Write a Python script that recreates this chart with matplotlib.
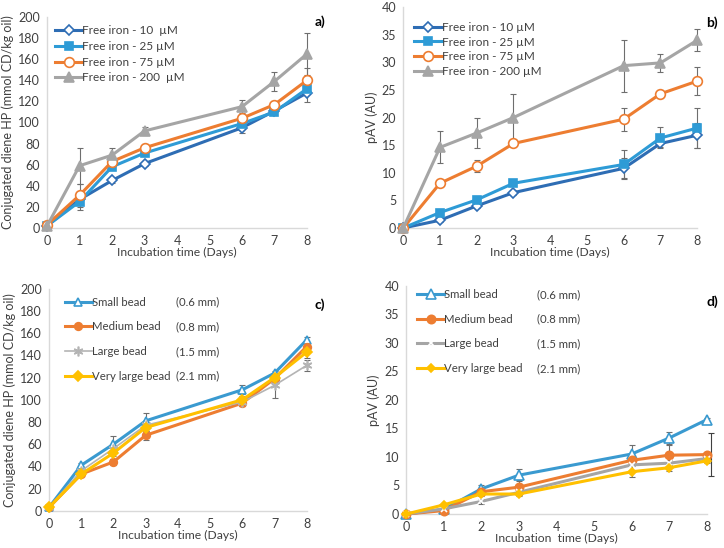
import matplotlib

matplotlib.use("Agg")
import matplotlib.pyplot as plt

plt.rcParams["font.family"] = ["Lato", "DejaVu Sans"]

# x positions (incubation days)
days = [0, 1, 2, 3, 6, 7, 8]
x_ticks = [0, 1, 2, 3, 4, 5, 6, 7, 8]

# panel a: conjugated diene HP, free iron
cd_iron_labels = ["Free iron - 10  µM", "Free iron - 25 µM", "Free iron - 75 µM", "Free iron - 200  µM"]
cd_iron_10 = [2, 27, 45, 61, 95, 111, 128]
cd_iron_25 = [2, 25, 58, 71, 99, 110, 132]
cd_iron_75 = [3, 31, 63, 76, 104, 117, 140]
cd_iron_200 = [2, 59, 69, 92, 115, 139, 165]
cd_iron_10_err = [0, 5, 2, 2, 5, 3, 9]
cd_iron_25_err = [0, 8, 3, 3, 3, 3, 4]
cd_iron_75_err = [0, 11, 3, 4, 3, 3, 12]
cd_iron_200_err = [0, 17, 7, 4, 6, 9, 20]

# panel b: pAV, free iron
pav_iron_labels = ["Free iron - 10 µM", "Free iron - 25 µM", "Free iron - 75 µM", "Free iron - 200 µM"]
pav_iron_10 = [0, 1.4, 4.0, 6.4, 10.8, 15.3, 16.8]
pav_iron_25 = [0, 2.8, 5.1, 8.1, 11.5, 16.3, 18.1]
pav_iron_75 = [0, 8.1, 11.2, 15.3, 19.7, 24.3, 26.6]
pav_iron_200 = [0, 14.6, 17.2, 20.0, 29.4, 29.9, 34.0]
pav_iron_10_err = [0, 0.3, 0.4, 0.4, 1.8, 0.7, 2.3]
pav_iron_25_err = [0, 0.3, 0.4, 0.4, 2.7, 1.9, 3.7]
pav_iron_75_err = [0, 0.4, 1.1, 0.5, 2.1, 0.7, 2.6]
pav_iron_200_err = [0, 2.9, 2.8, 4.2, 4.7, 1.6, 2.0]

# panel c: conjugated diene HP, bead size
bead_names = ["Small bead", "Medium bead", "Large bead", "Very large bead"]
bead_sizes = ["(0.6 mm)", "(0.8 mm)", "(1.5 mm)", "(2.1 mm)"]
cd_small = [3, 41, 60, 81, 109, 124, 154]
cd_medium = [3, 33, 44, 68, 97, 119, 148]
cd_large = [3, 36, 56, 77, 98, 113, 131]
cd_vlarge = [3, 33, 52, 75, 100, 120, 143]
cd_small_err = [0, 2, 7, 7, 4, 2, 3]
cd_medium_err = [0, 2, 3, 4, 3, 3, 3]
cd_large_err = [0, 2, 3, 3, 4, 11, 5]
cd_vlarge_err = [0, 2, 3, 3, 3, 3, 5]

# panel d: pAV, bead size
pav_small = [0, 0.8, 4.4, 6.8, 10.5, 13.3, 16.5]
pav_medium = [0, 0.6, 3.9, 4.7, 9.4, 10.3, 10.4]
pav_large = [0, 0.9, 2.2, 3.8, 8.6, 8.9, 9.7]
pav_vlarge = [0, 1.6, 3.5, 3.5, 7.4, 8.1, 9.3]
pav_small_err = [0, 0.2, 0.7, 1.0, 1.6, 1.1, 0.3]
pav_medium_err = [0, 0.2, 0.5, 1.3, 0.5, 1.7, 0.3]
pav_large_err = [0, 0.2, 0.4, 0.4, 1.0, 0.6, 0.3]
pav_vlarge_err = [0, 0.2, 0.3, 0.3, 1.0, 0.5, 0.3]
pav_medium_err_d8 = 3.7

DARK_BLUE = "#2E6DB4"
LIGHT_BLUE = "#2E9BD6"
ORANGE = "#ED7D31"
GRAY = "#A5A5A5"
YELLOW = "#FFC000"
TEXT = "#404040"
ERR = "#6E6E6E"

iron_styles = [
    dict(color=DARK_BLUE, marker="D", mfc="white", ms=5),
    dict(color=LIGHT_BLUE, marker="s", mfc=LIGHT_BLUE, ms=5.5),
    dict(color=ORANGE, marker="o", mfc="white", ms=7),
    dict(color=GRAY, marker="^", mfc=GRAY, ms=7),
]
bead_styles_c = [
    dict(color="#3A9AD0", marker="^", mfc="white", ms=6),
    dict(color=ORANGE, marker="o", mfc=ORANGE, ms=5.5),
    dict(color="#B4B4B4", marker=(6, 2, 0), mfc="#B4B4B4", ms=7, lw=1.2),
    dict(color=YELLOW, marker="D", mfc=YELLOW, ms=5),
]
bead_styles_d = [
    dict(color="#3A9AD0", marker="^", mfc="white", ms=7),
    dict(color=ORANGE, marker="o", mfc=ORANGE, ms=6),
    dict(color=GRAY, marker="x", mfc=GRAY, ms=4, mec="white"),
    dict(color=YELLOW, marker="D", mfc=YELLOW, ms=4.5),
]


def style_axes(ax, ymax, ystep, ylabel, xlabel):
    ax.set_xlim(0, 8)
    ax.set_ylim(0, ymax)
    ax.set_xticks(x_ticks)
    ax.set_yticks(range(0, ymax + 1, ystep))
    for side in ("top", "right"):
        ax.spines[side].set_visible(False)
    for side in ("left", "bottom"):
        ax.spines[side].set_color("#D9D9D9")
        ax.spines[side].set_linewidth(1)
    ax.tick_params(length=0, labelsize=9, colors=TEXT, pad=5)
    ax.set_ylabel(ylabel, fontsize=9, color=TEXT, labelpad=3)
    ax.set_xlabel(xlabel, fontsize=8.7, color=TEXT, labelpad=0)


def draw_series(ax, series, errors, styles, lw=2.2):
    handles = []
    for ys, es, st in zip(series, errors, styles):
        st = dict(st)
        width = st.pop("lw", lw)
        ax.errorbar(days, ys, yerr=es, fmt="none", ecolor=ERR, elinewidth=0.8,
                    capsize=2, capthick=0.8, zorder=2, clip_on=False)
        st.setdefault("mec", st["color"])
        (h,) = ax.plot(days, ys, lw=width, mew=1.2, zorder=3, clip_on=False, **st)
        handles.append(h)
    return handles


def panel_tag(ax, x, y, tag):
    ax.text(x, y, tag, transform=ax.transAxes, fontsize=10, fontweight="bold",
            ha="center", va="center")


def bead_legend(ax, handles, name_x, size_x, top):
    common = dict(loc="upper left", frameon=False, fontsize=8.2, labelspacing=1.2,
                  labelcolor=TEXT, borderaxespad=0.3)
    leg = ax.legend(handles, bead_names, bbox_to_anchor=(name_x, top),
                    handlelength=2.4, handletextpad=0.0, **common)
    ax.add_artist(leg)
    ax.legend([plt.Line2D([], [], lw=0)] * 4, bead_sizes, bbox_to_anchor=(size_x, top),
              handlelength=0, handletextpad=0, **common)


fig = plt.figure(figsize=(7.24, 5.48), dpi=100)

# panel a
ax_a = fig.add_axes([0.065, 0.584, 0.359, 0.385])
h = draw_series(ax_a, [cd_iron_10, cd_iron_25, cd_iron_75, cd_iron_200],
                [cd_iron_10_err, cd_iron_25_err, cd_iron_75_err, cd_iron_200_err], iron_styles)
style_axes(ax_a, 200, 20, "Conjugated diene HP (mmol CD/kg oil)", "Incubation time (Days)")
ax_a.legend(h, cd_iron_labels, loc="upper left", bbox_to_anchor=(0.0, 1.0), frameon=False,
            fontsize=8.5, handlelength=2.3, handletextpad=0.0, labelspacing=0.4,
            labelcolor=TEXT, borderaxespad=0.3)
panel_tag(ax_a, 1.05, 0.976, "a)")

# panel b
ax_b = fig.add_axes([0.557, 0.584, 0.406, 0.403])
h = draw_series(ax_b, [pav_iron_10, pav_iron_25, pav_iron_75, pav_iron_200],
                [pav_iron_10_err, pav_iron_25_err, pav_iron_75_err, pav_iron_200_err], iron_styles)
style_axes(ax_b, 40, 5, "pAV (AU)", "Incubation time (Days)")
ax_b.legend(h, pav_iron_labels, loc="upper left", bbox_to_anchor=(0.01, 0.97), frameon=False,
            fontsize=8.5, handlelength=2.3, handletextpad=0.0, labelspacing=0.3,
            labelcolor=TEXT, borderaxespad=0.3)
panel_tag(ax_b, 1.05, 0.93, "b)")

# panel c
ax_c = fig.add_axes([0.0677, 0.068, 0.356, 0.405])
h = draw_series(ax_c, [cd_small, cd_medium, cd_large, cd_vlarge],
                [cd_small_err, cd_medium_err, cd_large_err, cd_vlarge_err], bead_styles_c)
style_axes(ax_c, 200, 20, "Conjugated diene HP (mmol CD/kg oil)", "Incubation time (Days)")
bead_legend(ax_c, h, 0.03, 0.46, 1.0)
panel_tag(ax_c, 1.05, 0.93, "c)")

# panel d
ax_d = fig.add_axes([0.561, 0.062, 0.415, 0.417])
h = draw_series(ax_d, [pav_small, pav_medium, pav_large, pav_vlarge],
                [pav_small_err, pav_medium_err, pav_large_err, pav_vlarge_err], bead_styles_d)
ax_d.errorbar([8.12], [pav_medium[-1]], yerr=[pav_medium_err_d8], fmt="none", ecolor="#404040",
              elinewidth=0.8, capsize=2, capthick=0.8, clip_on=False)
style_axes(ax_d, 40, 5, "pAV (AU)", "Incubation  time (Days)")
bead_legend(ax_d, h, 0.01, 0.41, 1.02)
panel_tag(ax_d, 1.02, 0.93, "d)")

fig.savefig("out.png", dpi=100)
